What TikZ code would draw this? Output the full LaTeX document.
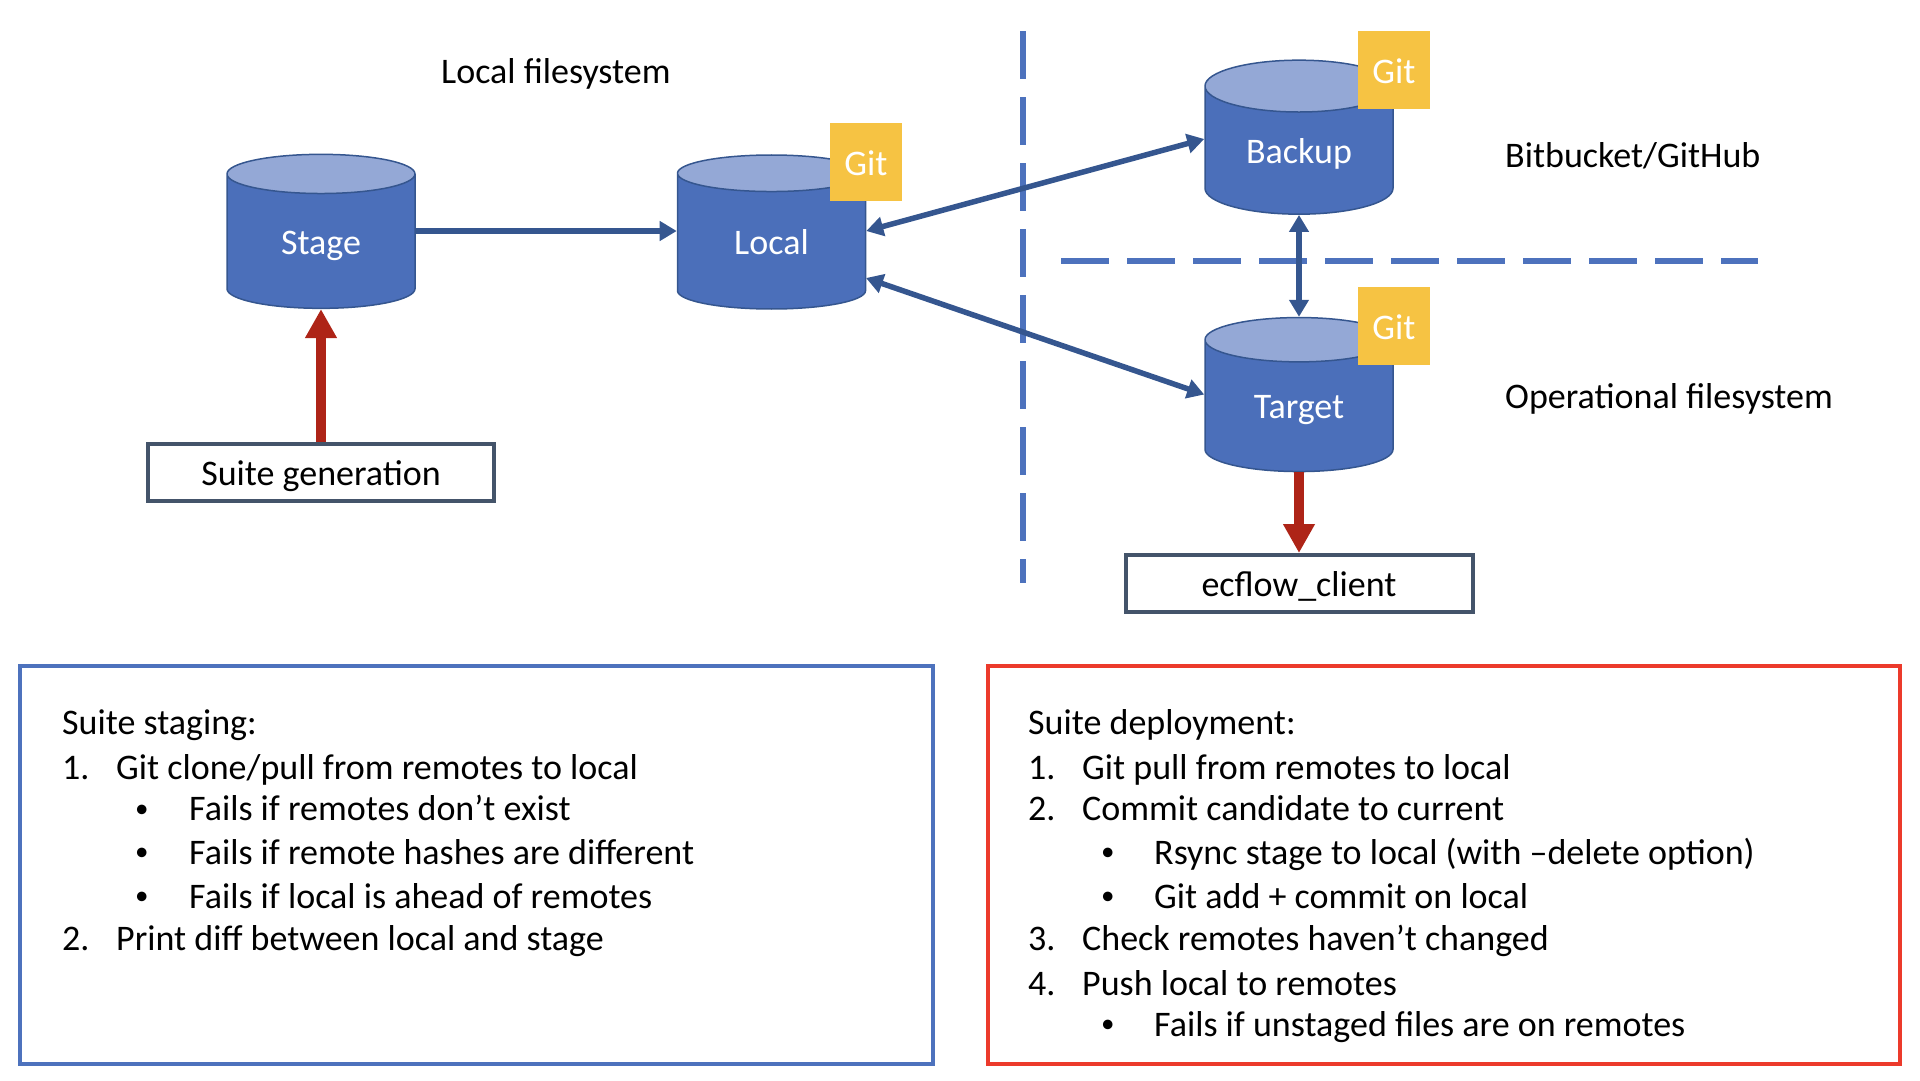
\documentclass[tikz,border=0pt]{standalone}
\usepackage{fontspec}
\setmainfont{Carlito}
\usetikzlibrary{shapes.geometric, arrows.meta, calc}

\definecolor{dbbody}{HTML}{4B6FBA}
\definecolor{dbtop}{HTML}{94A8D6}
\definecolor{dbline}{HTML}{35568F}
\definecolor{gitbox}{HTML}{F6C343}
\definecolor{redarrow}{HTML}{AE2417}
\definecolor{redframe}{HTML}{EC3A2B}
\definecolor{blueframe}{HTML}{4D72BD}
\definecolor{greyframe}{HTML}{44546A}

\tikzset{
    db/.style={cylinder, shape border rotate=90, aspect=0.49, draw=dbline, line width=1.5pt,
        cylinder uses custom fill, cylinder body fill=dbbody, cylinder end fill=dbtop,
        minimum width=188pt, minimum height=154pt, inner sep=0pt, text=white,
        text height=33pt, text depth=8pt, font=\fontsize{36}{40}\selectfont},
    gitflag/.style={fill=gitbox, text=white, minimum width=72pt, minimum height=78pt,
        inner sep=0pt, text height=26pt, text depth=0pt, font=\fontsize{36}{40}\selectfont},
    toolbox/.style={draw=greyframe, line width=4pt, fill=white, minimum height=57pt,
        inner sep=0pt, text height=34pt, text depth=8pt, font=\fontsize{36}{40}\selectfont},
    plain/.style={anchor=base west, inner sep=0pt, font=\fontsize{36}{40}\selectfont},
    dotmark/.style={anchor=base west, inner sep=0pt, font=\fontsize{27}{30}\selectfont},
    panel/.style={line width=4pt, minimum width=913pt, minimum height=398pt, inner sep=0pt},
    sync/.style={draw=dbline, line width=5.5pt, -{Triangle[length=17pt,width=19pt]}},
    syncboth/.style={draw=dbline, line width=5.5pt, {Triangle[length=17pt,width=19pt]}-{Triangle[length=17pt,width=19pt]}},
    feed/.style={draw=redarrow, line width=10pt, -{Triangle[length=29pt,width=30pt]}},
    divider/.style={draw=blueframe, line width=6pt, dash pattern=on 48pt off 18pt}
}

\begin{document}
\begin{tikzpicture}[x=1pt, y=-1pt]
    \useasboundingbox (0,0) rectangle (1920,1080);

    \coordinate (vtop) at (1022.5,31);
    \coordinate (vbot) at (1022.5,583);
    \coordinate (hleft) at (1061,260.5);
    \coordinate (hright) at (1758,260.5);
    \draw[divider] (vtop) -- (vbot);
    \draw[divider] (hleft) -- (hright);

    \node[db] (stage) at (321,241.5) {Stage};
    \node[db] (local) at (771.5,241.5) {Local};
    \node[db] (backup) at (1299,150.5) {Backup};
    \node[db] (target) at (1299,406) {Target};

    \node[gitflag] (gitlocal) at (866,162) {Git};
    \node[gitflag] (gitbackup) at (1394,70) {Git};
    \node[gitflag] (gittarget) at (1394,326) {Git};

    \node[toolbox, minimum width=346pt] (generation) at (321,472.5) {Suite generation};
    \node[toolbox, minimum width=347pt] (client) at (1299,583.5) {ecflow\_client};

    \node[plain] (lblfs) at (441,83) {Local filesystem};
    \node[plain] (lblremote) at (1505,167) {Bitbucket/GitHub};
    \node[plain] (lblop) at (1505,408) {Operational filesystem};

    \coordinate (localin) at (866,278);
    \draw[sync] ([yshift=10.5pt]stage.east) -- ([yshift=10.5pt]local.west);
    \draw[syncboth] ([yshift=10.5pt]local.east) -- ([yshift=11.5pt]backup.west);
    \draw[syncboth] (localin) -- ([yshift=11.5pt]target.west);
    \draw[syncboth] (backup.south) -- (target.north);
    \draw[feed] (generation.north) -- (stage.south);
    \draw[feed] (target.south) -- (client.north);

    % staging panel
    \node[panel, draw=blueframe] (staging) at (476.5,865) {};
    \node[plain] (st0) at (62,734) {Suite staging:};
    \node[plain] (st1n) at (62,779) {1.};
    \node[plain] (st1) at (116,779) {Git clone/pull from remotes to local};
    \node[dotmark] (st2b) at (135,817) {•};
    \node[plain] (st2) at (189,820) {Fails if remotes don’t exist};
    \node[dotmark] (st3b) at (135,860) {•};
    \node[plain] (st3) at (189,864) {Fails if remote hashes are different};
    \node[dotmark] (st4b) at (135,904) {•};
    \node[plain] (st4) at (189,908) {Fails if local is ahead of remotes};
    \node[plain] (st5n) at (62,950) {2.};
    \node[plain] (st5) at (116,950) {Print diff between local and stage};

    % deployment panel
    \node[panel, draw=redframe, minimum width=912pt] (deployment) at (1443.5,865) {};
    \node[plain] (de0) at (1028,734) {Suite deployment:};
    \node[plain] (de1n) at (1028,779) {1.};
    \node[plain] (de1) at (1082,779) {Git pull from remotes to local};
    \node[plain] (de2n) at (1028,820) {2.};
    \node[plain] (de2) at (1082,820) {Commit candidate to current};
    \node[dotmark] (de3b) at (1101,860) {•};
    \node[plain] (de3) at (1154,864) {Rsync stage to local (with –delete option)};
    \node[dotmark] (de4b) at (1101,904) {•};
    \node[plain] (de4) at (1154,908) {Git add + commit on local};
    \node[plain] (de5n) at (1028,950) {3.};
    \node[plain] (de5) at (1082,950) {Check remotes haven’t changed};
    \node[plain] (de6n) at (1028,995) {4.};
    \node[plain] (de6) at (1082,995) {Push local to remotes};
    \node[dotmark] (de7b) at (1101,1032) {•};
    \node[plain] (de7) at (1154,1036) {Fails if unstaged files are on remotes};
\end{tikzpicture}
\end{document}
